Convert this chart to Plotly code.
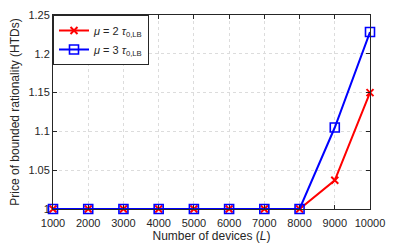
import plotly.graph_objects as go

devices = [1000, 2000, 3000, 4000, 5000, 6000, 7000, 8000, 9000, 10000]
device_labels = ["1000", "2000", "3000", "4000", "5000", "6000", "7000", "8000", "9000", "10000"]
pbr_mu2 = [1, 1, 1, 1, 1, 1, 1, 1, 1.037, 1.150]
pbr_mu3 = [1, 1, 1, 1, 1, 1, 1, 1, 1.105, 1.228]
y_ticks = [1, 1.05, 1.1, 1.15, 1.2, 1.25]
y_tick_labels = ["1", "1.05", "1.1", "1.15", "1.2", "1.25"]

fig = go.Figure()
fig.add_trace(go.Scatter(
    x=devices, y=pbr_mu2, mode="lines+markers",
    name="<i>μ</i> = 2 <i>τ</i><sub>0,LB</sub>",
    line=dict(color="#ff0000", width=2),
    marker=dict(symbol="x-thin", size=7, line=dict(color="#ff0000", width=2)),
    cliponaxis=False,
))
fig.add_trace(go.Scatter(
    x=devices, y=pbr_mu3, mode="lines+markers",
    name="<i>μ</i> = 3 <i>τ</i><sub>0,LB</sub>",
    line=dict(color="#0000ff", width=2),
    marker=dict(symbol="square-open", size=9, line=dict(color="#0000ff", width=1.6)),
    cliponaxis=False,
))

axis_common = dict(
    showline=True, mirror="ticks", linecolor="#262626", linewidth=1,
    ticks="inside", ticklen=4, tickcolor="#262626",
    showgrid=True, gridcolor="#dcdcdc", griddash="dot", gridwidth=1,
    zeroline=False, automargin=False,
    tickfont=dict(family="Liberation Sans, Arial", size=11, color="#262626"),
)

fig.update_layout(
    width=409, height=245,
    margin=dict(l=53, r=39, t=15, b=36),
    paper_bgcolor="white", plot_bgcolor="white",
    font=dict(family="Liberation Sans, Arial", size=11, color="#262626"),
    xaxis=dict(
        range=[1000, 10000], tickvals=devices, ticktext=device_labels,
        ticklabelstandoff=4,
        title=dict(text="Number of devices (<i>L</i>)", standoff=2,
                   font=dict(size=12)),
        **axis_common,
    ),
    yaxis=dict(
        range=[1, 1.25], tickvals=y_ticks, ticktext=y_tick_labels,
        title=dict(text="Price of bounded rationality (HTDs)", standoff=6,
                   font=dict(size=12)),
        **axis_common,
    ),
    legend=dict(
        x=0, y=1, xanchor="left", yanchor="top",
        bgcolor="white", bordercolor="#262626", borderwidth=1,
        font=dict(size=11), tracegroupgap=0,
    ),
    showlegend=True,
)

fig.write_html("out.html", config={"displayModeBar": False},
               post_script="document.body.style.margin='0px';")
